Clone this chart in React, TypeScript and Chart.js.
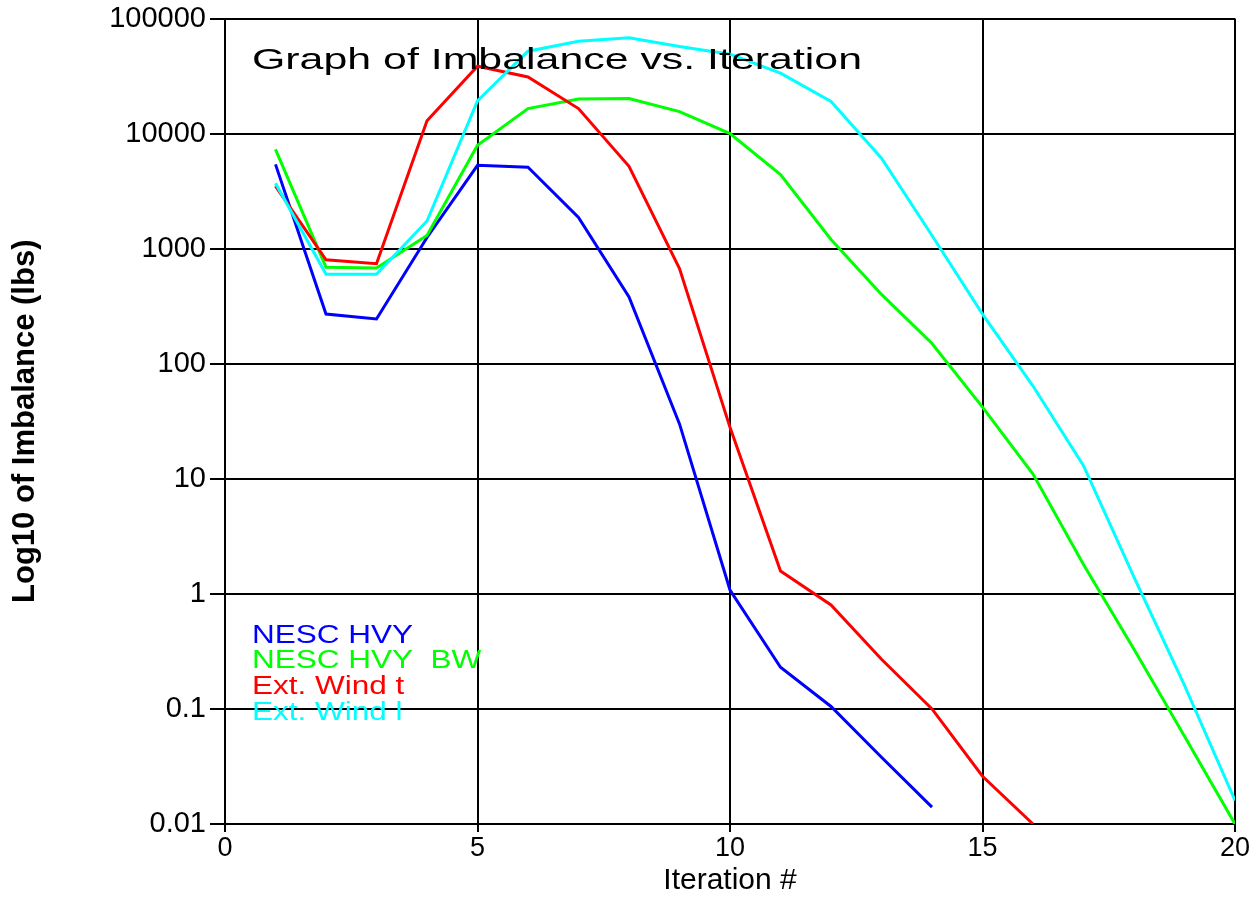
import { useEffect, useRef } from "react";
import { Chart, registerables } from "chart.js";

Chart.register(...registerables);

const iterations = [1, 2, 3, 4, 5, 6, 7, 8, 9, 10, 11, 12, 13, 14, 15, 16, 17, 18, 19, 20];

const nescHvy = [5400, 270, 245, 1250, 5300, 5100, 1870, 380, 30, 1.08, 0.23, 0.105, 0.038, 0.014];
const nescHvyBw = [7300, 690, 680, 1300, 7900, 16500, 20000, 20200, 15500, 10000, 4400, 1200, 400, 150, 42, 11, 1.8, 0.33, 0.058, 0.01];
const extWindT = [3500, 800, 740, 12900, 38500, 31000, 16500, 5200, 670, 28, 1.58, 0.8, 0.27, 0.1, 0.026, 0.01];
const extWindL = [3700, 600, 600, 1740, 19200, 52000, 63500, 68000, 57000, 49000, 33500, 19000, 6100, 1300, 270, 64, 13, 1.4, 0.16, 0.016];

const seriesNames = ["NESC HVY", "NESC HVY  BW", "Ext. Wind t", "Ext. Wind l"];
const seriesColors = ["#0000ff", "#00ff00", "#ff0000", "#00ffff"];

const yTicks = [0.01, 0.1, 1, 10, 100, 1000, 10000, 100000];
const yTickLabels = ["0.01", "0.1", "1", "10", "100", "1000", "10000", "100000"];
const xTicks = [0, 5, 10, 15, 20];

const chartTitle = "Graph of Imbalance vs. Iteration";
const xTitle = "Iteration #";
const yTitle = "Log10 of Imbalance (lbs)";

const FONT = "'Liberation Sans', Arial, sans-serif";

function toPoints(values: number[]) {
  return values.map((v, i) => ({ x: iterations[i], y: v }));
}

const overlayPlugin = {
  id: "overlayText",
  afterDraw(chart: any) {
    const ctx = chart.ctx as CanvasRenderingContext2D;
    const area = chart.chartArea;
    ctx.save();
    ctx.textBaseline = "alphabetic";
    ctx.textAlign = "left";
    // title inside plot
    ctx.font = `30px ${FONT}`;
    ctx.fillStyle = "#000";
    const tw = ctx.measureText(chartTitle).width;
    const tScale = 610 / tw;
    ctx.save();
    ctx.translate(area.left + 27, 69);
    ctx.scale(tScale, 1);
    ctx.fillText(chartTitle, 0, 0);
    ctx.restore();
    // legend inside plot
    ctx.font = `25px ${FONT}`;
    const baselines = [643, 668, 694, 720];
    seriesNames.forEach((name, i) => {
      ctx.save();
      ctx.translate(area.left + 27, baselines[i]);
      ctx.scale(1.26, 1);
      ctx.fillStyle = seriesColors[i];
      ctx.fillText(name, 0, 0);
      ctx.restore();
    });
    ctx.restore();
  },
};

export default function App() {
  const canvasRef = useRef<HTMLCanvasElement | null>(null);

  useEffect(() => {
    if (!canvasRef.current) return;
    const seriesData = [nescHvy, nescHvyBw, extWindT, extWindL];
    const orders = [3, 2, 1, 0];
    const chart = new Chart(canvasRef.current, {
      type: "line",
      data: {
        datasets: seriesData.map((vals, i) => ({
          label: seriesNames[i],
          data: toPoints(vals),
          borderColor: seriesColors[i],
          backgroundColor: seriesColors[i],
          borderWidth: 3,
          pointRadius: 0,
          tension: 0,
          fill: false,
          order: orders[i],
        })),
      },
      options: {
        responsive: false,
        animation: false,
        devicePixelRatio: 1,
        layout: { padding: { top: 17, right: 16, left: 0, bottom: 0 } },
        plugins: {
          legend: { display: false },
          tooltip: { enabled: false },
          title: { display: false },
        },
        scales: {
          x: {
            type: "linear",
            min: 0,
            max: 20,
            afterBuildTicks: (s: any) => {
              s.ticks = xTicks.map((v) => ({ value: v }));
            },
            afterFit: (s: any) => {
              s.height = 97;
            },
            grid: { color: "#000", lineWidth: 2, tickLength: 8, drawTicks: true },
            border: { color: "#000", width: 2 },
            ticks: {
              color: "#000",
              font: { family: FONT, size: 27 },
              padding: 0,
              maxRotation: 0,
              autoSkip: false,
              callback: (v: any) => String(v),
            },
            title: {
              display: true,
              text: xTitle,
              color: "#000",
              font: { family: FONT, size: 30 },
              padding: { top: 0, bottom: 22 },
            },
          },
          y: {
            type: "logarithmic",
            min: 0.01,
            max: 100000,
            afterBuildTicks: (s: any) => {
              s.ticks = yTicks.map((v) => ({ value: v }));
            },
            afterFit: (s: any) => {
              s.width = 225;
            },
            grid: { color: "#000", lineWidth: 2, tickLength: 15, drawTicks: true },
            border: { color: "#000", width: 2 },
            ticks: {
              color: "#000",
              font: { family: FONT, size: 29, lineHeight: 1 },
              padding: 4,
              autoSkip: false,
              callback: (v: any) => {
                const idx = yTicks.indexOf(Number(v));
                return idx >= 0 ? yTickLabels[idx] : "";
              },
            },
            title: {
              display: true,
              text: yTitle,
              color: "#000",
              font: { family: FONT, size: 31, weight: "bold" },
              padding: { top: 7, bottom: 0 },
            },
          },
        },
      },
      plugins: [overlayPlugin],
    } as any);
    return () => chart.destroy();
  }, []);

  return (
    <div style={{ position: "absolute", left: 0, top: 0, width: 1251, height: 921, background: "#fff" }}>
      <canvas ref={canvasRef} width={1251} height={921} style={{ display: "block" }} />
    </div>
  );
}
